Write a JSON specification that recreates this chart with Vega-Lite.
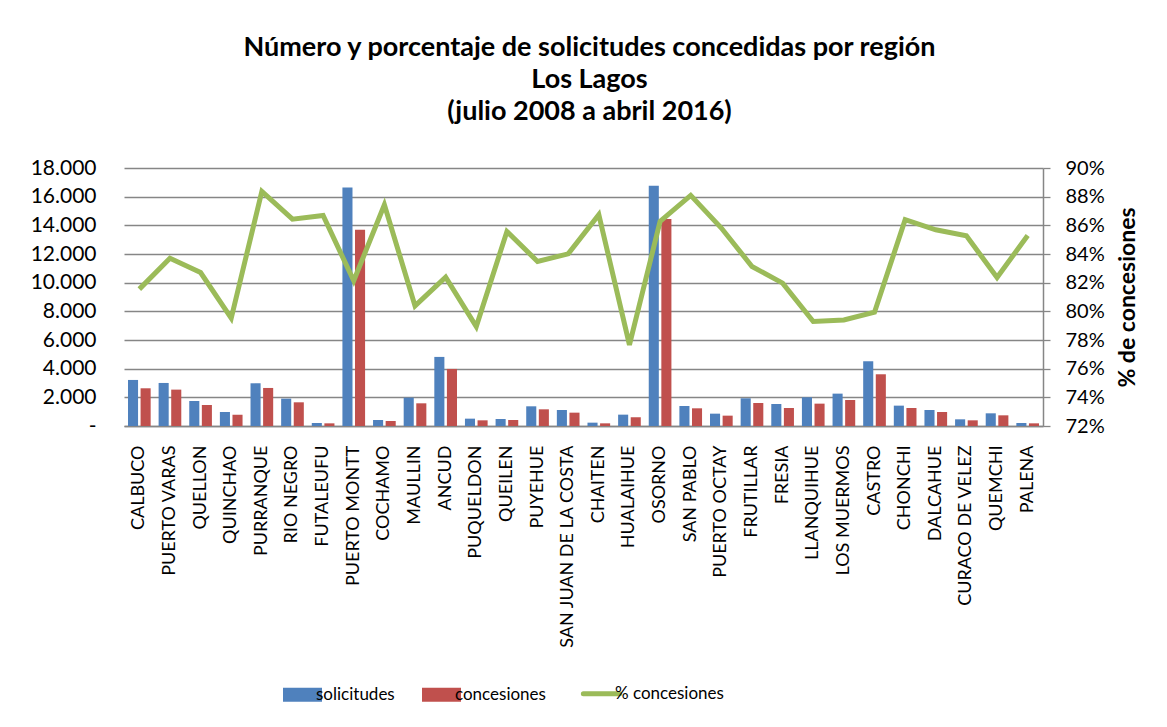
{
  "$schema": "https://vega.github.io/schema/vega-lite/v6.json",
  "width": 919,
  "height": 258,
  "autosize": {"type": "none"},
  "padding": {"top": 168, "left": 124, "right": 124, "bottom": 301},
  "background": "white",
  "config": {
    "font": "Lato",
    "view": {"stroke": null},
    "axis": {"labelFont": "Lato", "labelColor": "black", "labelFontSize": 20, "titleFont": "Lato"}
  },
  "title": {
    "text": ["Número y porcentaje de solicitudes concedidas por región", "Los Lagos", "(julio 2008 a abril 2016)"],
    "frame": "group",
    "anchor": "middle",
    "fontSize": 27,
    "fontWeight": "bold",
    "font": "Lato",
    "color": "black",
    "lineHeight": 32,
    "offset": 31,
    "dx": 6
  },
  "data": {
    "values": [
      {"region": "CALBUCO", "solicitudes": 3213, "concesiones": 2631, "pct": 0.8155},
      {"region": "PUERTO VARAS", "solicitudes": 3003, "concesiones": 2538, "pct": 0.8371},
      {"region": "QUELLON", "solicitudes": 1746, "concesiones": 1467, "pct": 0.8271},
      {"region": "QUINCHAO", "solicitudes": 978, "concesiones": 792, "pct": 0.7952},
      {"region": "PURRANQUE", "solicitudes": 2980, "concesiones": 2654, "pct": 0.8837},
      {"region": "RIO NEGRO", "solicitudes": 1909, "concesiones": 1653, "pct": 0.8643},
      {"region": "FUTALEUFU", "solicitudes": 210, "concesiones": 186, "pct": 0.8669},
      {"region": "PUERTO MONTT", "solicitudes": 16647, "concesiones": 13690, "pct": 0.8213},
      {"region": "COCHAMO", "solicitudes": 419, "concesiones": 349, "pct": 0.8744},
      {"region": "MAULLIN", "solicitudes": 1979, "concesiones": 1583, "pct": 0.8038},
      {"region": "ANCUD", "solicitudes": 4820, "concesiones": 3981, "pct": 0.8238},
      {"region": "PUQUELDON", "solicitudes": 512, "concesiones": 396, "pct": 0.7894},
      {"region": "QUEILEN", "solicitudes": 489, "concesiones": 419, "pct": 0.8557},
      {"region": "PUYEHUE", "solicitudes": 1374, "concesiones": 1164, "pct": 0.8348},
      {"region": "SAN JUAN DE LA COSTA", "solicitudes": 1117, "concesiones": 931, "pct": 0.8401},
      {"region": "CHAITEN", "solicitudes": 233, "concesiones": 186, "pct": 0.8674},
      {"region": "HUALAIHUE", "solicitudes": 792, "concesiones": 605, "pct": 0.7766},
      {"region": "OSORNO", "solicitudes": 16764, "concesiones": 14435, "pct": 0.8627},
      {"region": "SAN PABLO", "solicitudes": 1397, "concesiones": 1234, "pct": 0.8809},
      {"region": "PUERTO OCTAY", "solicitudes": 861, "concesiones": 722, "pct": 0.8581},
      {"region": "FRUTILLAR", "solicitudes": 1932, "concesiones": 1606, "pct": 0.8313},
      {"region": "FRESIA", "solicitudes": 1537, "concesiones": 1257, "pct": 0.8197},
      {"region": "LLANQUIHUE", "solicitudes": 2002, "concesiones": 1560, "pct": 0.7929},
      {"region": "LOS MUERMOS", "solicitudes": 2258, "concesiones": 1816, "pct": 0.7940},
      {"region": "CASTRO", "solicitudes": 4517, "concesiones": 3609, "pct": 0.7994},
      {"region": "CHONCHI", "solicitudes": 1420, "concesiones": 1257, "pct": 0.8639},
      {"region": "DALCAHUE", "solicitudes": 1117, "concesiones": 978, "pct": 0.8569},
      {"region": "CURACO DE VELEZ", "solicitudes": 466, "concesiones": 396, "pct": 0.8527},
      {"region": "QUEMCHI", "solicitudes": 885, "concesiones": 745, "pct": 0.8236},
      {"region": "PALENA", "solicitudes": 210, "concesiones": 186, "pct": 0.8529}
    ]
  },
  "encoding": {
    "x": {
      "field": "region",
      "type": "nominal",
      "sort": null,
      "scale": {"paddingInner": 0.26, "paddingOuter": 0.13},
      "axis": {
        "title": null,
        "labelAngle": -90,
        "labelPadding": 19,
        "labelLimit": 400,
        "ticks": false,
        "domainColor": "#868686",
        "domainWidth": 1.5,
        "labelFontSize": 18
      }
    }
  },
  "layer": [
    {
      "transform": [{"fold": ["solicitudes", "concesiones"], "as": ["serie", "valor"]}],
      "mark": {"type": "bar"},
      "encoding": {
        "xOffset": {"field": "serie", "type": "nominal", "sort": ["solicitudes", "concesiones"], "scale": {"domain": ["solicitudes", "concesiones"], "paddingInner": 0.2}},
        "y": {
          "field": "valor",
          "type": "quantitative",
          "scale": {"domain": [0, 18000], "nice": false},
          "axis": {
            "title": null,
            "values": [0, 2000, 4000, 6000, 8000, 10000, 12000, 14000, 16000, 18000],
            "labelExpr": "datum.value === 0 ? '-' : replace(format(datum.value, ','), ',', '.')",
            "labelFontSize": 21,
            "domain": false,
            "ticks": false,
            "labelPadding": 28,
            "grid": true,
            "gridColor": "#868686",
            "gridWidth": 1.3,
            "encode": {"labels": {"update": {"dx": {"signal": "datum.value === 0 ? -18 : 0"}}}}
          }
        },
        "color": {
          "field": "serie",
          "type": "nominal",
          "scale": {"domain": ["solicitudes", "concesiones", "% concesiones"], "range": ["#4F81BD", "#C0504D", "#9BBB59"]},
          "legend": {
            "title": null,
            "orient": "none",
            "direction": "horizontal",
            "legendX": 170,
            "legendY": 517,
            "labelFont": "Lato",
            "labelFontSize": 17,
            "labelColor": "black",
            "labelOffset": 5,
            "columnPadding": 27,
            "symbolSize": 1521,
            "symbolType": "M-1,-0.36H1V0.36H-1Z",
            "symbolStrokeWidth": 0,
            "encode": {
              "symbols": {
                "update": {
                  "shape": {"signal": "datum.value === '% concesiones' ? 'M-0.93,0H0.93' : 'M-1,-0.36H1V0.36H-1Z'"},
                  "stroke": {"signal": "datum.value === '% concesiones' ? '#9BBB59' : 'transparent'"},
                  "strokeWidth": {"signal": "datum.value === '% concesiones' ? 5 : 0"},
                  "strokeCap": {"value": "round"}
                }
              }
            }
          }
        }
      }
    },
    {
      "mark": {"type": "line", "color": "#9BBB59", "strokeWidth": 5, "strokeJoin": "miter"},
      "encoding": {
        "y": {
          "field": "pct",
          "type": "quantitative",
          "scale": {"domain": [0.72, 0.9], "nice": false, "zero": false},
          "axis": {
            "orient": "right",
            "title": "% de concesiones",
            "titleFontSize": 23,
            "titleFontWeight": "bold",
            "titleColor": "black",
            "titleAngle": 270,
            "titlePadding": 35,
            "values": [0.72, 0.74, 0.76, 0.78, 0.8, 0.82, 0.84, 0.86, 0.88, 0.9],
            "format": ".0%",
            "grid": false,
            "domainColor": "#868686",
            "domainWidth": 1.5,
            "tickColor": "#868686",
            "tickSize": 7,
            "tickWidth": 1.3,
            "labelPadding": 15,
            "labelFontSize": 20
          }
        }
      }
    }
  ],
  "resolve": {"scale": {"y": "independent"}}
}
